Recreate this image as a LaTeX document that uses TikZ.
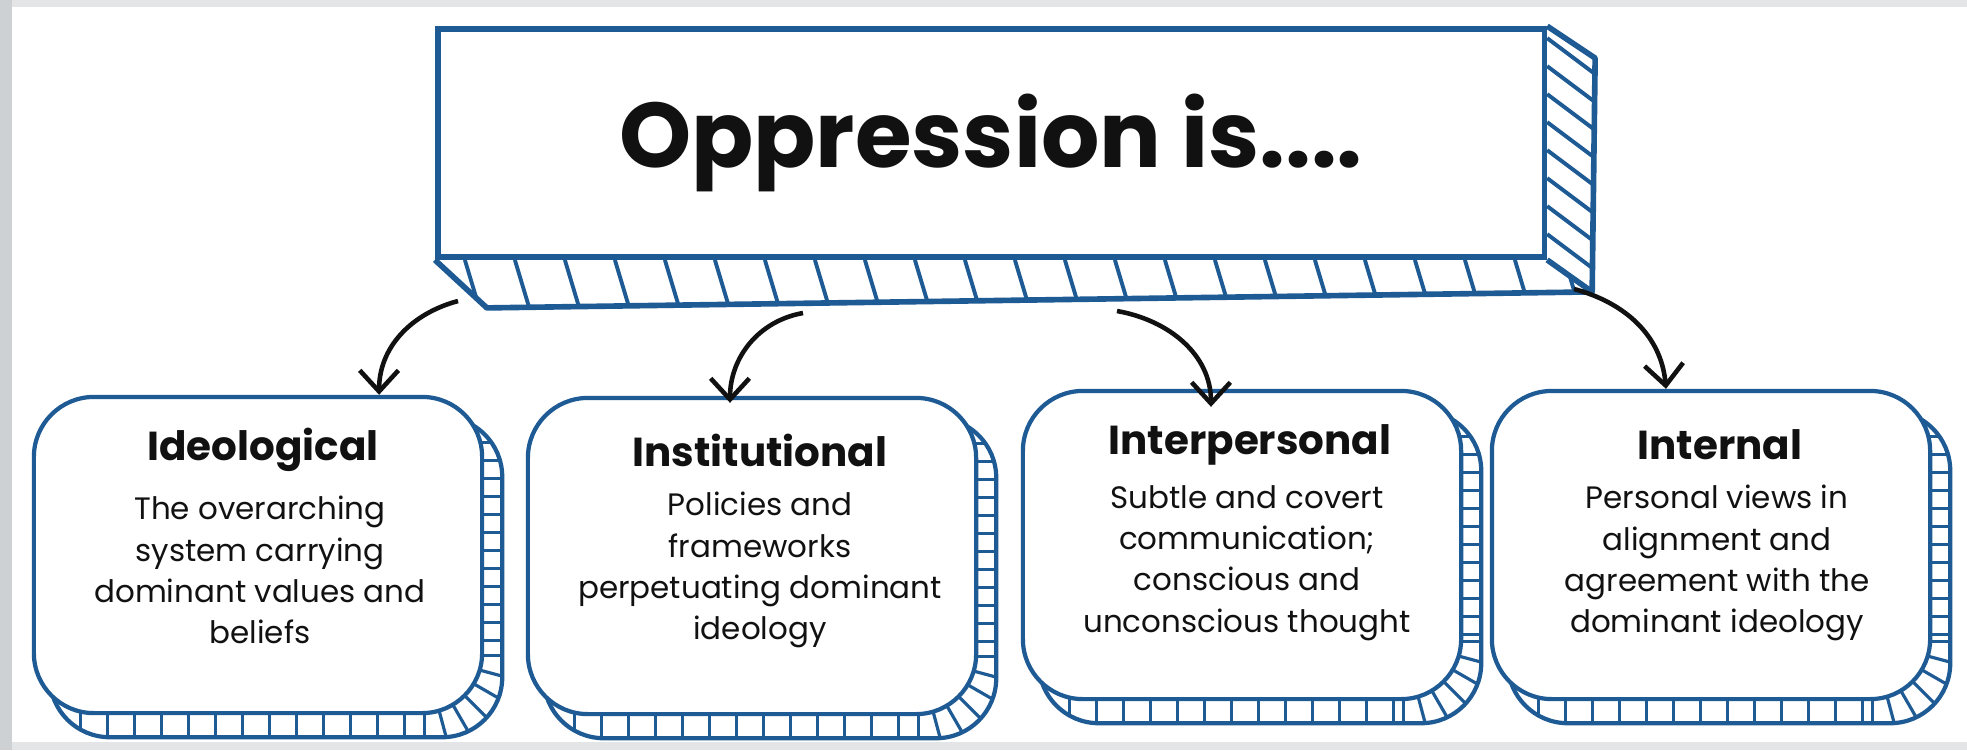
\documentclass[tikz,border=0pt]{standalone}
\usepackage{fontspec}
\setmainfont{Poppins}
\usepackage{tikz}
\usetikzlibrary{arrows.meta,calc,backgrounds}

\definecolor{rimblue}{RGB}{30,90,148}
\definecolor{inkblack}{RGB}{17,17,17}
\definecolor{framegray}{RGB}{206,209,211}
\definecolor{topgray}{RGB}{228,229,230}

\begin{document}
\begin{tikzpicture}[x=0.01cm, y=-0.01cm, >={Straight Barb[length=6pt,width=11pt]},
    card/.style={draw=rimblue, line width=1.2pt, fill=white, rounded corners=0.6cm,
                 minimum width=4.48cm, minimum height=3.16cm, inner sep=0pt},
    rim/.style={draw=rimblue, line width=1.2pt, fill=white, rounded corners=0.6cm},
    tick/.style={rimblue, line width=0.9pt},
    hatch/.style={rimblue, line width=1.1pt},
    head/.style={font=\fontsize{11.5}{14}\selectfont\bfseries, text=inkblack},
    body/.style={font=\fontsize{8.8}{11.7}\selectfont, text=inkblack, align=center},
    link/.style={->, line width=1.3pt, inkblack}]

    % slide frame
    \begin{scope}[on background layer]
      \fill[framegray] (0,0) rectangle (1967,750);
      \fill[topgray] (12,0) rectangle (1967,7);
      \fill[topgray] (12,742) rectangle (1967,750);
      \fill[white] (12,7) rectangle (1967,742);
    \end{scope}

    % title block
    \node[draw=rimblue, line width=1.6pt, fill=white, minimum width=11.06cm, minimum height=2.28cm,
          font=\fontsize{26.1}{31}\selectfont\bfseries, text=inkblack] (title) at (991,143) {Oppression is....};
    \coordinate (bbl) at ([shift={(52,48)}]title.south west);
    \coordinate (bbr) at ([shift={(45,32)}]title.south east);
    \coordinate (btr) at ([shift={(48,32)}]title.north east);
    \begin{scope}
      \clip (title.south west) -- (title.south east) -- (bbr) -- (bbl) -- cycle;
      \foreach \x in {30,80,...,1180} \draw[hatch] ([shift={(\x,0)}]title.south west) -- ++(18,60);
    \end{scope}
    \begin{scope}
      \clip (title.north east) -- (btr) -- (bbr) -- (title.south east) -- cycle;
      \foreach \y in {12,40,...,260} \draw[hatch] ([shift={(0,\y)}]title.north east) -- ++(60,45);
    \end{scope}
    \draw[rimblue, line width=1.6pt, line join=round] (title.south west) -- (bbl) -- (bbr) -- (btr) -- (title.north east);
    \draw[rimblue, line width=1.6pt] (title.south east) -- (bbr);

    % the four cards
    \node[card] (ideo) at (258,555) {};
    \node[card] (inst) at (752,556) {};
    \node[card, minimum width=4.38cm, minimum height=3.08cm] (inter) at (1242,545) {};
    \node[card, minimum width=4.38cm, minimum height=3.08cm] (intern) at (1711,545) {};

    \node[head] (ideoH) at (263,450) {Ideological};
    \node[body] (ideoB) at (260,570) {The overarching\\system carrying\\dominant values and\\beliefs};
    \node[head] (instH) at (760,450) {Institutional};
    \node[body] (instB) at (760,570) {Policies and\\frameworks\\perpetuating dominant\\ideology};
    \node[head] (interH) at (1250,445) {Interpersonal};
    \node[body] (interB) at (1247,563) {Subtle and covert\\communication;\\conscious and\\unconscious thought};
    \node[head] (internH) at (1720,445) {Internal};
    \node[body] (internB) at (1717,563) {Personal views in\\alignment and\\agreement with the\\dominant ideology};

    % hatched rims behind the cards
    \begin{scope}[on background layer]
      \foreach \c in {ideo,inst,inter,intern} {
        \path[rim] ([shift={(18,22)}]\c.north west) rectangle ([shift={(18,22)}]\c.south east);
        \begin{scope}
          \clip[rounded corners=0.6cm] ([shift={(18,22)}]\c.north west) rectangle ([shift={(18,22)}]\c.south east);
          \foreach \x in {22,49,...,380} \draw[tick] ([shift={(\x,-5)}]\c.south west) -- ++(0,40);
          \foreach \y in {30,48,...,250} \draw[tick] ([shift={(-5,\y)}]\c.north east) -- ++(40,0);
          \foreach \a in {0,15,...,90} \draw[tick] ([shift={(-60,-60)}]\c.south east) ++(\a:55) -- ++(\a:40);
        \end{scope}
      }
    \end{scope}

    % arrows
    \coordinate (out1) at (458,301);
    \coordinate (out2) at (803,313);
    \coordinate (out3) at (1117,311);
    \coordinate (out4) at (1574,289);
    \draw[link] (out1) to[out=195,in=90] ([xshift=1.21cm]ideo.north);
    \draw[link] (out2) to[out=190,in=90] ([xshift=-0.22cm,yshift=-0.07cm]inst.north);
    \draw[link] (out3) to[out=-10,in=90] ([xshift=-0.31cm,yshift=-0.18cm]inter.north);
    \draw[link] (out4) to[out=-15,in=95] ([xshift=-0.45cm]intern.north);
\end{tikzpicture}
\end{document}
